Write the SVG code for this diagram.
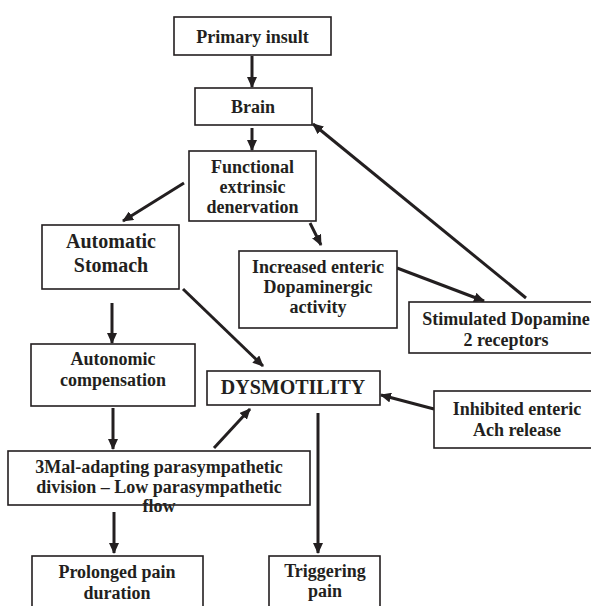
<svg xmlns="http://www.w3.org/2000/svg" width="591" height="606" viewBox="0 0 591 606">
<defs>
<style>
rect{fill:#fff;stroke:#231f20;stroke-width:1.6}
text{font-family:"Liberation Serif","Times New Roman",serif;font-weight:bold;font-size:18px;fill:#231f20;text-anchor:middle}
.big{font-size:20px}
.c line{stroke:#231f20;stroke-width:3;marker-end:url(#ah)}
</style>
<marker id="ah" markerUnits="userSpaceOnUse" markerWidth="11" markerHeight="10" refX="10" refY="5" orient="auto">
<path d="M0,0 L11,5 L0,10 z" fill="#231f20"/>
</marker>
</defs>
<rect width="591" height="606" style="stroke:none;fill:#fff"/>
<g class="c" id="connectors">
<line x1="252" y1="56" x2="252" y2="87"/>
<line x1="252" y1="128" x2="252" y2="150"/>
<line x1="184" y1="183" x2="123" y2="221"/>
<line x1="310" y1="223" x2="321" y2="245"/>
<line x1="112" y1="303" x2="112" y2="343"/>
<line x1="183" y1="289" x2="263" y2="366"/>
<line x1="397" y1="268" x2="484" y2="301"/>
<line x1="526" y1="298" x2="313" y2="124"/>
<line x1="434" y1="409" x2="381" y2="395"/>
<line x1="113" y1="408" x2="113" y2="449"/>
<line x1="214" y1="448" x2="250" y2="409"/>
<line x1="114" y1="512" x2="114" y2="553"/>
<line x1="318" y1="413" x2="318" y2="553"/>
</g>
<g id="primary"><rect x="174" y="17" width="157" height="38"/><text x="252.5" y="43">Primary insult</text></g>
<g id="brain"><rect x="195" y="88" width="117" height="37"/><text x="253" y="113">Brain</text></g>
<g id="functional"><rect x="189" y="151" width="127" height="70"/><text x="252.5" y="173">Functional</text><text x="252.5" y="193">extrinsic</text><text x="252.5" y="213">denervation</text></g>
<g id="automatic"><rect x="42" y="225" width="137" height="64"/><text class="big" x="111" y="248">Automatic</text><text class="big" x="111" y="272">Stomach</text></g>
<g id="autonomic"><rect x="31" y="344" width="164" height="62"/><text x="113" y="365">Autonomic</text><text x="113" y="386">compensation</text></g>
<g id="dysmotility"><rect x="207" y="371" width="173" height="34"/><text class="big" x="293" y="394">DYSMOTILITY</text></g>
<g id="increased"><rect x="239" y="251" width="158" height="77"/><text x="318" y="273">Increased enteric</text><text x="318" y="293">Dopaminergic</text><text x="318" y="313">activity</text></g>
<g id="stimulated"><rect x="409" y="302" width="200" height="51"/><text x="506" y="325">Stimulated Dopamine</text><text x="506" y="346">2 receptors</text></g>
<g id="inhibited"><rect x="434" y="391" width="170" height="57"/><text x="517" y="415">Inhibited enteric</text><text x="517" y="436">Ach release</text></g>
<g id="maladapting"><rect x="8" y="451" width="302" height="54"/><text x="159" y="473">3Mal-adapting parasympathetic</text><text x="159" y="493">division – Low parasympathetic</text><text x="159" y="512">flow</text></g>
<g id="prolonged"><rect x="32" y="556" width="171" height="60"/><text x="117" y="578">Prolonged pain</text><text x="117" y="599">duration</text></g>
<g id="triggering"><rect x="269" y="556" width="111" height="60"/><text x="325" y="577">Triggering</text><text x="325" y="597">pain</text></g>
</svg>
